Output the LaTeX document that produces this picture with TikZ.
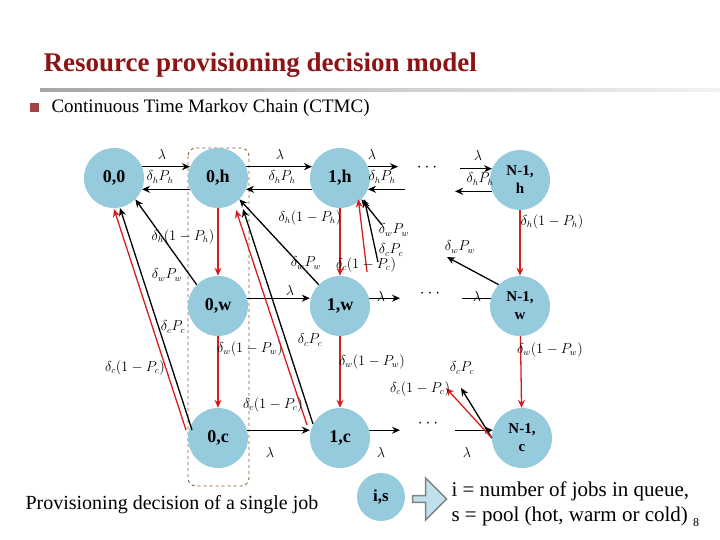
\documentclass[tikz,border=0pt]{standalone}
\usepackage{fontspec}
\setmainfont{Liberation Serif}
\usetikzlibrary{arrows.meta,shapes.arrows}
\definecolor{nodeblue}{RGB}{150,203,222}
\definecolor{edgered}{RGB}{215,30,30}
\definecolor{titlered}{RGB}{140,20,20}
\begin{document}
\begin{tikzpicture}[x=1pt,y=-1pt,
  st/.style={circle,fill=nodeblue,minimum size=60pt,inner sep=0pt,font=\bfseries\fontsize{18}{19}\selectfont,align=center},
  stt/.style={st,font=\bfseries\fontsize{15}{18}\selectfont},
  bk/.style={-{Stealth[length=8pt,width=7pt]},line width=1.3pt,black},
  rd/.style={-{Stealth[length=8pt,width=7pt]},line width=1.3pt,edgered},
  lb/.style={font=\fontsize{13.5}{14}\selectfont,inner sep=1pt}]
\useasboundingbox (0,0) rectangle (720,540);
\node[anchor=west,text=titlered,font=\bfseries\fontsize{27}{29}\selectfont] (title) at (40,65) {Resource provisioning decision model};
\shade[left color=gray!70,right color=gray!10] (40,89) rectangle (720,92);
\fill[titlered!80] (30,103) rectangle (39,112);
\node[anchor=west,font=\fontsize{19}{21}\selectfont] (sub) at (48,108) {Continuous Time Markov Chain (CTMC)};
\draw[brown!70!black,dashed,rounded corners=8pt,line width=0.8pt] (188,148) rectangle (249,486);
% nodes
\node[st] (00) at (114,178) {0,0};
\node[st] (0h) at (218,178) {0,h};
\node[st] (1h) at (340,178) {1,h};
\node[stt] (Nh) at (520,180) {N-1,\\h};
\node[st] (0w) at (218,306) {0,w};
\node[st] (1w) at (340,306) {1,w};
\node[stt] (Nw) at (520,306) {N-1,\\w};
\node[st] (0c) at (218,438) {0,c};
\node[st] (1c) at (340,438) {1,c};
\node[stt] (Nc) at (522,438) {N-1,\\c};
% free ends
\coordinate (r1a) at (398,167); \coordinate (r1b) at (405,189);
\coordinate (l1a) at (460,167); \coordinate (l1b) at (455,189);
\coordinate (r2) at (400,298); \coordinate (l2) at (462,298);
\coordinate (r3) at (400,428); \coordinate (l3) at (455,428);
\node[font=\fontsize{18}{18}\selectfont] (d1) at (427,168) {$\cdots$};
\node[font=\fontsize{18}{18}\selectfont] (d2) at (430,294) {$\cdots$};
\node[font=\fontsize{18}{18}\selectfont] (d3) at (428,424) {$\cdots$};
% top row
\draw[bk] (00.22) -- (0h.158);
\draw[bk] (0h.202) -- (00.-22);
\draw[bk] (0h.22) -- (1h.158);
\draw[bk] (1h.202) -- (0h.-22);
\draw[bk] (1h.22) -- (1h.22 -| r1a);
\draw[bk] (1h.-22 -| r1b) -- (1h.-22);
\draw[bk] (Nh.158 -| l1a) -- (Nh.158);
\draw[bk] (Nh.202) -- (Nh.202 -| l1b);
\node[lb] (a1) at (162,155) {$\lambda$};
\node[lb] (a2) at (160,177) {$\delta_h P_h$};
\node[lb] (a3) at (280,155) {$\lambda$};
\node[lb] (a4) at (282,177) {$\delta_h P_h$};
\node[lb] (a5) at (372,155) {$\lambda$};
\node[lb] (a6) at (382,177) {$\delta_h P_h$};
\node[lb] (a7) at (478,156) {$\lambda$};
\node[lb] (a8) at (480,179) {$\delta_h P_h$};
% vertical red
\draw[rd] (0h) -- (0w);
\draw[rd] (1h) -- (1w);
\draw[rd] (Nh) -- (Nw);
\draw[rd] (0w) -- (0c);
\draw[rd] (1w) -- (1c);
\draw[rd] (Nw) -- (Nc);
\node[lb] (b1) at (183,237) {$\delta_h(1-P_h)$};
\node[lb] (b2) at (310,218) {$\delta_h(1-P_h)$};
\node[lb] (b3) at (552,222) {$\delta_h(1-P_h)$};
\node[lb] (b4) at (250,349) {$\delta_w(1-P_w)$};
\node[lb] (b5) at (372,362) {$\delta_w(1-P_w)$};
\node[lb] (b6) at (550,350) {$\delta_w(1-P_w)$};
% middle row
\draw[bk] (0w.15) -- (0w.15 -| 1w.west);
\draw[bk] (1w.15) -- (1w.15 -| r2);
\draw[line width=1.3pt] (Nw.165 -| l2) -- (Nw.165);
\node[lb] (c1) at (290,290) {$\lambda$};
\node[lb] (c2) at (381,296) {$\lambda$};
\node[lb] (c3) at (477,296) {$\lambda$};
% bottom row
\draw[bk] (0c.15) -- (0c.15 -| 1c.west);
\draw[bk] (1c.15) -- (1c.15 -| r3);
\draw[bk] (Nc.165 -| l3) -- (Nc.165);
\node[lb] (e1) at (270,452) {$\lambda$};
\node[lb] (e2) at (381,452) {$\lambda$};
\node[lb] (e3) at (467,452) {$\lambda$};
% diagonals
\draw[bk] (0w.north west) -- (00.south east);
\draw[bk] (1w.north west) -- (0h.south east);
\coordinate (nw1) at (447,257);
\draw[bk] (Nw.north west) -- (nw1);
\node[lb] (f1) at (167,275) {$\delta_w P_w$};
\node[lb] (f2) at (306,263) {$\delta_w P_w$};
\node[lb] (f3) at (460,247) {$\delta_w P_w$};
% c -> h
\draw[bk] (192,430) -- (120,208);
\draw[rd] (186,430) -- (114,209);
\draw[bk] (313,424) -- (243,209);
\draw[rd] (307,425) -- (236,210);
\node[lb] (g1) at (173,327) {$\delta_c P_c$};
\node[lb] (g2) at (135,368) {$\delta_c(1-P_c)$};
\node[lb] (g3) at (310,340) {$\delta_c P_c$};
\node[lb] (g4) at (273,405) {$\delta_c(1-P_c)$};
% N-1,c
\coordinate (nc1) at (461,388); \coordinate (nc2) at (446,388);
\draw[bk] (Nc.west) -- (nc1);
\draw[rd] (Nc.west) -- (nc2);
\node[lb] (h1) at (462,368) {$\delta_c P_c$};
\node[lb] (h2) at (420,389) {$\delta_c(1-P_c)$};
% incoming to 1,h
\coordinate (i1) at (382,225); \coordinate (i2) at (378,262); \coordinate (i3) at (367,272);
\draw[bk] (i1) -- (1h.south east);
\draw[bk] (i2) -- ([xshift=3pt]1h.south east);
\draw[rd] (i3) -- ([xshift=-3pt]1h.south east);
\node[lb] (j1) at (394,230) {$\delta_w P_w$};
\node[lb] (j2) at (391,250) {$\delta_c P_c$};
\node[lb] (j3) at (366,265) {$\delta_c(1-P_c)$};
% legend
\node[anchor=west,font=\fontsize{20}{22}\selectfont] (prov) at (22,505) {Provisioning decision of a single job};
\node[circle,fill=nodeblue,minimum size=48pt,inner sep=0pt,font=\bfseries\fontsize{17}{18}\selectfont] (is) at (381,497) {i,s};
\node[single arrow,draw=gray,fill=nodeblue!60,line width=1.5pt,minimum height=34pt,minimum width=42pt,single arrow head extend=4pt,inner sep=0pt] (arr) at (428,499) {};
\node[anchor=west,font=\fontsize{21}{23}\selectfont] (t1) at (448,491) {i = number of jobs in queue,};
\node[anchor=west,font=\fontsize{21}{23}\selectfont] (t2) at (448,516) {s = pool (hot, warm or cold)};
\node[anchor=west,font=\fontsize{12}{12}\selectfont,inner sep=0pt] (pg) at (693,523) {8};
\end{tikzpicture}
\end{document}
